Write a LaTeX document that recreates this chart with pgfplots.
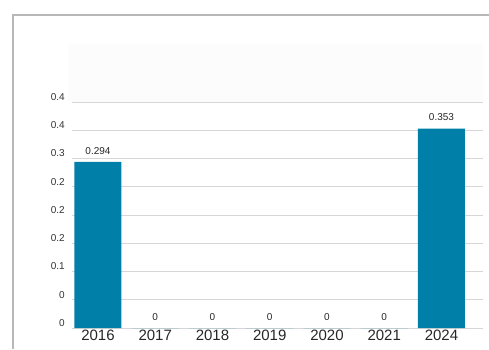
\documentclass[border=0pt]{standalone}
\usepackage{pgfplots}
\pgfplotsset{compat=1.18}
\usepackage{fontspec}
\setmainfont{Liberation Sans}
\definecolor{barc}{HTML}{0080A8}
\definecolor{gridc}{HTML}{D6D6D6}
\definecolor{framec}{HTML}{B8B8B8}
\begin{document}
\begin{tikzpicture}[x=1pt,y=1pt]
\useasboundingbox (0,0) rectangle (489,349);
\fill[black!1] (68,247) rectangle (483,305);
\draw[framec, line width=1.2pt] (13,0) -- (13,334) -- (489,334);
\begin{axis}[
  at={(72pt,21pt)}, anchor=south west,
  scale only axis, width=411pt, height=226pt,
  xmin=-0.454, xmax=6.725, ymin=0, ymax=0.4,
  ytick={0,0.05,0.1,0.15,0.2,0.25,0.3,0.35,0.4},
  yticklabels={0,0,0.1,0.2,0.2,0.2,0.3,0.4,0.4},
  xtick={0,1,2,3,4,5,6},
  xticklabels={2016,2017,2018,2019,2020,2021,2024},
  ymajorgrids, grid style={gridc, line width=0.8pt},
  axis line style={draw=none},
  major tick length=0pt,
  clip=false,
  ybar, bar width=47pt, bar shift=0pt,
  yticklabel style={font=\fontsize{10}{12}\selectfont, text=black!80, yshift=5pt, xshift=-3.7pt},
  xticklabel style={font=\fontsize{15}{16}\selectfont, text=black!85, inner sep=1.5pt},
]
\addplot[fill=barc, draw=none, nodes near coords, point meta=explicit symbolic,
  every node near coord/.style={font=\fontsize{10}{12}\selectfont, text=black!85, anchor=south, yshift=4pt}]
  table[meta=lab] {
x y lab
0 0.294 0.294
1 0 0
2 0 0
3 0 0
4 0 0
5 0 0
6 0.353 0.353
};
\end{axis}
\end{tikzpicture}
\end{document}
